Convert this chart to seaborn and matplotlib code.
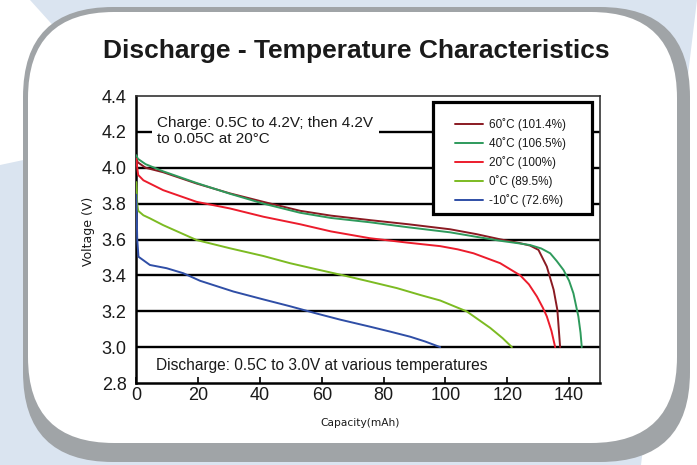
import numpy as np
import pandas as pd
import matplotlib
matplotlib.use("Agg")
import matplotlib.pyplot as plt
import seaborn as sns
from matplotlib.patches import FancyBboxPatch, Polygon, Rectangle

# ---------------- data ----------------
labels = ["60˚C (101.4%)", "40˚C (106.5%)", "20˚C (100%)", "0˚C (89.5%)", "-10˚C (72.6%)"]
colors = ["#8a1a22", "#2e9a5c", "#ec1c2c", "#7cbb22", "#2f4ea6"]

cap_60 = [0, 0.5, 3, 8.7, 19.5, 30.3, 41.1, 53, 63, 75.6, 88, 101.5, 110, 117.7, 124, 127.4, 130.1, 132.8, 135, 136.2, 137.1]
volt_60 = [4.05, 4.03, 4.00, 3.975, 3.912, 3.857, 3.81, 3.76, 3.733, 3.708, 3.685, 3.657, 3.63, 3.601, 3.58, 3.566, 3.542, 3.449, 3.32, 3.208, 3.0]

cap_40 = [0, 0.5, 3, 8.7, 19.5, 30.3, 41.1, 53, 63, 75.6, 88, 101.5, 110, 117.7, 124, 127.4, 131, 133.9, 136, 138.2, 140, 141.4, 143.0, 143.7, 144.1]
volt_40 = [4.07, 4.05, 4.02, 3.98, 3.915, 3.855, 3.80, 3.749, 3.72, 3.696, 3.668, 3.640, 3.615, 3.593, 3.578, 3.569, 3.55, 3.523, 3.48, 3.43, 3.37, 3.30, 3.171, 3.08, 3.0]

cap_20 = [0, 0.3, 0.6, 2.3, 8.7, 19.5, 30.3, 41.1, 53, 63, 75.6, 88, 98.3, 104, 109.1, 117.7, 124.2, 127, 129.6, 131.5, 132.8, 134.3, 135.5]
volt_20 = [4.05, 4.0, 3.96, 3.93, 3.875, 3.81, 3.773, 3.727, 3.685, 3.645, 3.607, 3.582, 3.563, 3.545, 3.523, 3.468, 3.40, 3.35, 3.282, 3.22, 3.171, 3.09, 3.0]

cap_0 = [0, 0.3, 0.6, 2.3, 4.4, 8.7, 19.5, 30.3, 41.1, 49.7, 58, 67, 75.6, 84.3, 92, 98.3, 106.9, 114.5, 118.5, 121.5]
volt_0 = [3.92, 3.80, 3.76, 3.735, 3.718, 3.68, 3.597, 3.551, 3.508, 3.468, 3.435, 3.40, 3.365, 3.329, 3.29, 3.26, 3.199, 3.107, 3.05, 3.0]

cap_m10 = [0, 0.3, 0.7, 4.4, 9.8, 15.2, 20.6, 31.4, 41.1, 49.7, 58.4, 66, 75.6, 82, 88.6, 93.5, 98.3]
volt_m10 = [3.85, 3.60, 3.504, 3.458, 3.44, 3.412, 3.37, 3.31, 3.266, 3.228, 3.187, 3.153, 3.114, 3.087, 3.058, 3.031, 3.0]

x_ticks = [0, 20, 40, 60, 80, 100, 120, 140]
y_ticks = [2.8, 3.0, 3.2, 3.4, 3.6, 3.8, 4.0, 4.2, 4.4]
grid_levels = [3.0, 3.2, 3.4, 3.6, 3.8, 4.0, 4.2]

title = "Discharge - Temperature Characteristics"
charge_note = "Charge: 0.5C to 4.2V; then 4.2V\nto 0.05C at 20°C"
discharge_note = "Discharge: 0.5C to 3.0V at various temperatures"

series = [(cap_60, volt_60), (cap_40, volt_40), (cap_20, volt_20), (cap_0, volt_0), (cap_m10, volt_m10)]
frames = []
for lab, (c, v) in zip(labels, series):
    frames.append(pd.DataFrame({"cap": c, "volt": v, "series": lab}))
df = pd.concat(frames, ignore_index=True)

# ---------------- style ----------------
sns.set_theme(style="white")
plt.rcParams["font.family"] = ["Liberation Sans", "DejaVu Sans"]

fig = plt.figure(figsize=(6.97, 4.65), dpi=100)
fig.patch.set_facecolor("white")

# background decoration (pixel coordinates)
bg = fig.add_axes([0, 0, 1, 1], zorder=-10)
bg.set_xlim(0, 697)
bg.set_ylim(465, 0)
bg.axis("off")
bg.add_patch(Rectangle((0, 0), 697, 465, color="#dae4f0", lw=0))
bg.add_patch(Polygon([(0, 0), (30, 0), (150, 133), (0, 165)], closed=True, color="white", lw=0))
bg.add_patch(Polygon([(697, 0), (641, 465), (697, 465)], closed=True, color="white", lw=0))
bg.add_patch(FancyBboxPatch((23, 7), 667, 455, boxstyle="round,pad=0,rounding_size=90",
                            fc="#a0a4a7", ec="none"))
bg.add_patch(FancyBboxPatch((28, 12), 649, 431, boxstyle="round,pad=0,rounding_size=86",
                            fc="white", ec="none"))

ax = fig.add_axes([136.3 / 697, (465 - 383) / 465, (600 - 136.3) / 697, (383 - 96) / 465])
ax.set_facecolor("white")

for y in grid_levels:
    ax.axhline(y, color="black", lw=1.7, zorder=1)

sns.lineplot(data=df, x="cap", y="volt", hue="series", hue_order=labels, palette=colors,
             estimator=None, sort=False, lw=1.4, ax=ax, zorder=3)

ax.set_xlim(0, 150)
ax.set_ylim(2.8, 4.4)
ax.set_xticks(x_ticks)
ax.set_xticklabels([str(t) for t in x_ticks])
ax.set_yticks(y_ticks)
ax.set_yticklabels([f"{t:.1f}" for t in y_ticks])
ax.tick_params(axis="x", direction="in", length=4, width=1.2, pad=3, labelsize=13,
               colors="black", bottom=True)
ax.tick_params(axis="y", length=0, pad=7, labelsize=13, colors="black")
ax.tick_params(labelcolor="#1a1a1a")

for side in ["left", "bottom"]:
    ax.spines[side].set_linewidth(1.8)
    ax.spines[side].set_color("black")
for side in ["top", "right"]:
    ax.spines[side].set_linewidth(1.2)
    ax.spines[side].set_color("#333333")

ax.set_xlabel("Capacity(mAh)", fontsize=7.7, family=["DejaVu Sans"], color="#1a1a1a")
ax.xaxis.set_label_coords((360 - 136.3) / 463.7, (383 - 418) / 287)
ax.set_ylabel("Voltage (V)", fontsize=9, family=["DejaVu Sans"], color="#1a1a1a")
ax.yaxis.set_label_coords((95 - 136.3) / 463.7, (383 - 231) / 287)

# legend with drawn frame
ax.add_patch(Rectangle((0.640, 0.589), 0.3425, 0.39, transform=ax.transAxes, fc="white",
                       ec="black", lw=2.3, zorder=4, clip_on=False))
handles, labs = ax.get_legend_handles_labels()
leg = ax.legend(handles, labs, loc="upper left", bbox_to_anchor=(0.687, 0.924), frameon=False,
                fontsize=8.5, handlelength=2.4, handletextpad=0.45, labelspacing=0.52,
                borderpad=0, borderaxespad=0)
leg.set_zorder(5)
for t in leg.get_texts():
    t.set_color("#1a1a1a")

ax.text(6.7, 4.29, charge_note, fontsize=11, va="top", ha="left", linespacing=1.2,
        color="#1a1a1a", zorder=4, bbox=dict(fc="white", ec="none", pad=4))
ax.text(6.4, 2.897, discharge_note, fontsize=11.2, va="center", ha="left", color="#1a1a1a", zorder=4)

fig.text(356.5 / 697, (465 - 58) / 465, title, ha="center", va="baseline", fontsize=19,
         fontweight="bold", color="#1a1a1a")

fig.savefig("out.png", dpi=100, facecolor=fig.get_facecolor())
